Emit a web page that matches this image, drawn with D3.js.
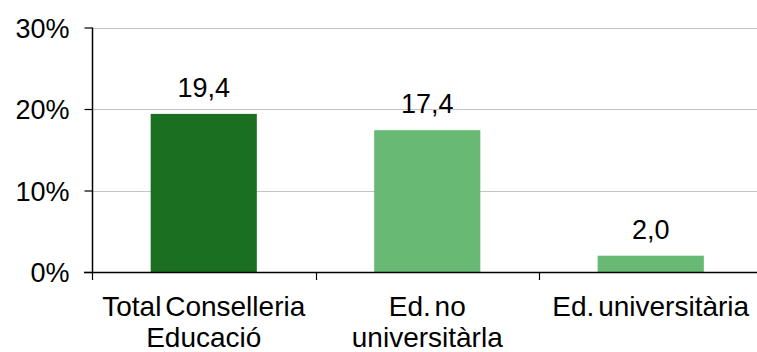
<!DOCTYPE html>
<html><head><meta charset="utf-8">
<script src="https://cdn.jsdelivr.net/npm/d3@7/dist/d3.min.js"></script>
<style>body{margin:0;background:#fff}svg{display:block}text{font-family:"Liberation Sans",Arial,sans-serif;fill:#000}</style>
</head><body><svg id="c" width="757" height="352"></svg>
<script>
const categories = [["Total Conselleria","Educació"],["Ed. no","universitàrla"],["Ed. universitària"]];
const values = [19.4, 17.4, 2.0];
const valueLabels = ["19,4","17,4","2,0"];
const colors = ["#1b6f20","#67b973","#67b973"];
const yTicks = [0,10,20,30];

const svg = d3.select("#c");
const x0 = 92, y0 = 272, yTop = 27.5, bandW = 223.5;
const x = d3.scaleBand().domain(d3.range(categories.length)).range([x0, x0 + bandW*3]).paddingInner(0.525).paddingOuter(0.2625);
const y = d3.scaleLinear().domain([0,30]).range([y0, yTop]);

// gridlines
svg.append("g").selectAll("line").data(yTicks.filter(d=>d>0)).join("line")
  .attr("x1", x0).attr("x2", 757).attr("y1", d=>Math.round(y(d))+0.5).attr("y2", d=>Math.round(y(d))+0.5)
  .attr("stroke", "#c4c4c4").attr("stroke-width", 1);

// bars
svg.append("g").selectAll("rect").data(values).join("rect")
  .attr("x", (d,i)=>x(i)).attr("width", x.bandwidth())
  .attr("y", d=>y(d)).attr("height", d=>y0 - y(d)).attr("fill", (d,i)=>colors[i]);

// value labels
svg.append("g").selectAll("text").data(values).join("text")
  .attr("x", (d,i)=>x(i)+x.bandwidth()/2).attr("y", d=>y(d)-17)
  .attr("text-anchor","middle").attr("font-size", 27).text((d,i)=>valueLabels[i]);

// y axis
const yAxis = d3.axisLeft(y).tickValues(yTicks).tickFormat(d=>d+"%").tickSize(8).tickPadding(15);
const ga = svg.append("g").attr("transform", `translate(${x0+0.5},0)`).call(yAxis);
ga.select(".domain").attr("stroke","#000").attr("stroke-width",1.5).attr("d", `M0,${y(30)}V${y0}`);
ga.selectAll(".tick line").attr("stroke","#000").attr("stroke-width",1.2);
ga.selectAll(".tick text").attr("font-size",27).attr("font-family","Liberation Sans, Arial, sans-serif").attr("fill","#000").attr("dy","0.36em");

// x axis line & ticks
const xb = d3.scaleLinear().domain([0,3]).range([x0, x0+bandW*3]);
svg.append("line").attr("x1", x0-8).attr("x2", 757).attr("y1", y0+0.5).attr("y2", y0+0.5).attr("stroke","#000").attr("stroke-width",1.5);
svg.append("g").selectAll("line").data([0,1,2]).join("line")
  .attr("x1", d=>Math.round(xb(d))+0.5).attr("x2", d=>Math.round(xb(d))+0.5).attr("y1", y0).attr("y2", y0+8)
  .attr("stroke","#000").attr("stroke-width",1.2);

// category labels
const cg = svg.append("g").selectAll("text").data(categories).join("text")
  .attr("text-anchor","middle").attr("font-size",28).attr("word-spacing","-4px");
cg.each(function(lines,i){
  const t = d3.select(this);
  lines.forEach((l,j)=>{
    t.append("tspan").attr("x", x(i)+x.bandwidth()/2).attr("y", 316 + j*31).text(l);
  });
});
</script></body></html>
